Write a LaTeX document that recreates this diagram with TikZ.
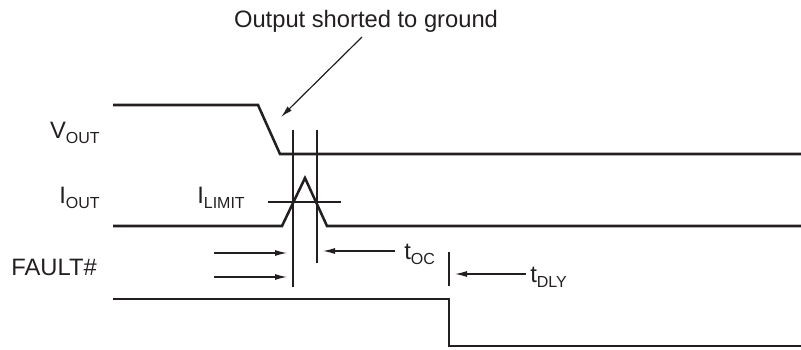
\documentclass[tikz,border=0pt]{standalone}
\usepackage{fontspec}
\setmainfont{Liberation Sans}
\usepackage{xcolor}
\definecolor{inkblack}{RGB}{35, 31, 32}
\usepackage{tikz}
\usetikzlibrary{arrows.meta}
\newcommand{\lowsub}[1]{\raisebox{-0.22em}{\fontsize{12}{12}\selectfont #1}}
\tikzset{
    trace/.style={line width=1.9pt, inkblack, line join=miter},
    marker/.style={line width=0.9pt, inkblack},
    lbl/.style={font=\fontsize{17.8}{20}\selectfont, inkblack, inner sep=0pt}
}

\begin{document}
\begin{tikzpicture}[x=0.75pt, y=-0.75pt, >={Latex[length=9pt, width=4.5pt]}]
    \useasboundingbox (0,0) rectangle (801,350);
    % signal traces
    \draw[trace] (113,105) -- (258,105) -- (280,154) -- (801,154);
    \draw[trace] (113,226) -- (282,226) -- (305,178) -- (327,226) -- (801,226);
    \draw[trace] (113,299) -- (449,299) -- (449,346) -- (801,346);
    % timing marks
    \draw[marker] (293,130) -- (293,287);
    \draw[marker] (317,130) -- (317,263);
    \draw[marker] (449,252) -- (449,286);
    \draw[marker] (268,202) -- (341,202);
    % signal names
    \node[lbl, anchor=base east] (vout) at (100,138) {V\lowsub{OUT}};
    \node[lbl, anchor=base east] (iout) at (100,203) {I\lowsub{OUT}};
    \node[lbl, anchor=base east] (fault) at (97,275) {FAULT\#};
    \node[lbl, anchor=base west] (ilimit) at (197,203) {I\lowsub{LIMIT}};
    \node[lbl, anchor=base west] (toc) at (404,259) {t\lowsub{OC}};
    \node[lbl, anchor=base west] (tdly) at (530,282) {t\lowsub{DLY}};
    \node[lbl, anchor=base] (short) at (366,27) {Output shorted to ground};
    % arrows
    \coordinate (shortend) at (362,37);
    \coordinate (shorttip) at (281,117);
    \draw[marker, ->] (shortend) -- (shorttip);
    \draw[marker, ->] (214,253) -- (287,253);
    \draw[marker, ->] (214,277) -- (287,277);
    \draw[marker, ->] (toc.west |- 0,251) ++(-9,0) -- (323,251);
    \draw[marker, ->] (tdly.west |- 0,274) ++(-4,0) -- (455,274);
\end{tikzpicture}
\end{document}
